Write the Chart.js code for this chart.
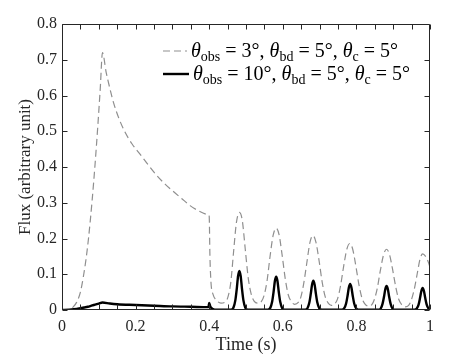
<!DOCTYPE html>
<html>
<head>
<meta charset="utf-8">
<script src="https://cdn.jsdelivr.net/npm/chart.js@4.4.1/dist/chart.umd.min.js"></script>
<style>
  body { margin: 0; background: #fff; }
  #wrap { position: relative; width: 474px; height: 356px; }
  #legend { position: absolute; left: 163px; top: 39px; font-family: "Liberation Serif", serif; color: #000; font-size: 20px; }
  #legend .row { height: 23px; line-height: 23px; white-space: nowrap; display: flex; align-items: center; }
  #legend svg { margin-right: 4px; }
  #legend sub { font-size: 14px; vertical-align: -4px; line-height: 0; }
</style>
</head>
<body>
<div id="wrap">
  <canvas id="fluxChart" width="474" height="356"></canvas>
  <div id="legend"></div>
</div>
<script>
// theta_obs = 3 deg (grey dashed)
const time3 = [0, 0.01, 0.02, 0.03, 0.04, 0.05, 0.058, 0.065, 0.072, 0.082, 0.09, 0.097, 0.104, 0.11,
  0.12, 0.13, 0.14, 0.155, 0.17, 0.19, 0.212, 0.235, 0.257, 0.28, 0.302, 0.325, 0.348, 0.37, 0.398,
  0.400, 0.402, 0.405, 0.41, 0.42, 0.432, 0.445, 0.452, 0.459, 0.466, 0.474, 0.482, 0.490, 0.498, 0.506, 0.514, 0.522, 0.532,
  0.542, 0.549, 0.557, 0.566, 0.574, 0.582, 0.590, 0.598, 0.607, 0.615, 0.623, 0.632,
  0.642, 0.649, 0.657, 0.665, 0.674, 0.682, 0.690, 0.699, 0.707, 0.715, 0.723, 0.732,
  0.742, 0.749, 0.757, 0.765, 0.774, 0.782, 0.790, 0.799, 0.807, 0.815, 0.823, 0.832,
  0.842, 0.849, 0.857, 0.865, 0.874, 0.882, 0.890, 0.899, 0.907, 0.915, 0.923, 0.932,
  0.942, 0.949, 0.957, 0.965, 0.973, 0.980, 0.988, 0.995, 1.0];
const flux3 = [0, 0, 0.002, 0.008, 0.022, 0.05, 0.093, 0.14, 0.2, 0.308, 0.41, 0.51, 0.62, 0.72,
  0.665, 0.62, 0.58, 0.535, 0.5, 0.465, 0.436, 0.405, 0.377, 0.352, 0.332, 0.312, 0.292, 0.278, 0.266,
  0.262, 0.15, 0.075, 0.045, 0.027, 0.019, 0.024, 0.04, 0.08, 0.16, 0.245, 0.273, 0.25, 0.17, 0.09, 0.045, 0.025, 0.019,
  0.024, 0.04, 0.08, 0.155, 0.21, 0.229, 0.21, 0.155, 0.085, 0.042, 0.024, 0.016,
  0.021, 0.036, 0.075, 0.13, 0.19, 0.208, 0.19, 0.135, 0.078, 0.038, 0.02, 0.013,
  0.018, 0.032, 0.068, 0.12, 0.17, 0.186, 0.17, 0.12, 0.07, 0.034, 0.017, 0.011,
  0.015, 0.03, 0.062, 0.11, 0.155, 0.17, 0.155, 0.11, 0.064, 0.03, 0.015, 0.009,
  0.013, 0.027, 0.057, 0.1, 0.143, 0.157, 0.15, 0.135, 0.12];

// theta_obs = 10 deg (black solid)
const time10 = [0, 0.02, 0.04, 0.05, 0.06, 0.07, 0.08, 0.09, 0.1, 0.11, 0.13, 0.15, 0.2, 0.25, 0.3, 0.35, 0.398,
  0.4, 0.403, 0.41, 0.42, 0.45,
  0.46, 0.466, 0.471, 0.475, 0.4785, 0.482, 0.4855, 0.489, 0.493, 0.498, 0.504, 0.53,
  0.56, 0.566, 0.571, 0.575, 0.5785, 0.582, 0.5855, 0.589, 0.593, 0.598, 0.604, 0.63,
  0.661, 0.667, 0.672, 0.676, 0.6795, 0.683, 0.6865, 0.69, 0.694, 0.699, 0.705, 0.73,
  0.761, 0.767, 0.772, 0.776, 0.7795, 0.783, 0.7865, 0.79, 0.794, 0.799, 0.805, 0.83,
  0.86, 0.866, 0.871, 0.875, 0.8785, 0.882, 0.8855, 0.889, 0.893, 0.898, 0.904, 0.93,
  0.958, 0.964, 0.969, 0.973, 0.9765, 0.98, 0.9835, 0.987, 0.991, 0.996, 1.0];
const flux10 = [0, 0.001, 0.003, 0.005, 0.007, 0.009, 0.012, 0.015, 0.018, 0.021, 0.018, 0.016, 0.014, 0.012, 0.01, 0.009, 0.008,
  0.02, 0.01, 0.003, 0.001, 0.001,
  0.001, 0.007, 0.027, 0.06, 0.095, 0.109, 0.095, 0.06, 0.027, 0.007, 0.001, 0.0005,
  0.001, 0.006, 0.023, 0.051, 0.081, 0.093, 0.081, 0.051, 0.023, 0.006, 0.001, 0.0005,
  0.001, 0.005, 0.02, 0.045, 0.071, 0.082, 0.071, 0.045, 0.02, 0.005, 0.001, 0.0005,
  0.001, 0.005, 0.018, 0.04, 0.063, 0.073, 0.063, 0.04, 0.018, 0.005, 0.001, 0.0005,
  0.001, 0.004, 0.017, 0.037, 0.058, 0.067, 0.058, 0.037, 0.017, 0.004, 0.001, 0.0005,
  0.001, 0.004, 0.015, 0.034, 0.053, 0.0615, 0.053, 0.034, 0.015, 0.004, 0.001];

const xTickMarks = [0, 0.05, 0.1, 0.15, 0.2, 0.25, 0.3, 0.35, 0.4, 0.45, 0.5, 0.55, 0.6, 0.65, 0.7, 0.75, 0.8, 0.85, 0.9, 0.95, 1];
const yTickMarks = [0, 0.1, 0.2, 0.3, 0.4, 0.5, 0.6, 0.7, 0.8];
const obsAngles = [3, 10];
const bdAngle = 5;
const cAngle = 5;

const axisColor = '#262626';
const serif = '"Liberation Serif", "Times New Roman", serif';

// box around the plot with inward ticks on all four sides
const boxTicks = {
  id: 'boxTicks',
  afterDraw(chart) {
    const { ctx, chartArea: a, scales: { x, y } } = chart;
    const L = Math.round(a.left) + 0.5, R = Math.round(a.right) - 0.5;
    const T = Math.round(a.top) + 0.5, B = Math.round(a.bottom) - 0.5;
    const len = 5;
    ctx.save();
    ctx.strokeStyle = axisColor;
    ctx.lineWidth = 1;
    ctx.beginPath();
    ctx.rect(L, T, R - L, B - T);
    xTickMarks.forEach(v => {
      const px = Math.round(x.getPixelForValue(v)) + 0.5;
      ctx.moveTo(px, B); ctx.lineTo(px, B - len);
      ctx.moveTo(px, T); ctx.lineTo(px, T + len);
    });
    yTickMarks.forEach(v => {
      const py = Math.round(y.getPixelForValue(v)) + 0.5;
      ctx.moveTo(L, py); ctx.lineTo(L + len, py);
      ctx.moveTo(R, py); ctx.lineTo(R - len, py);
    });
    ctx.stroke();
    ctx.restore();
  }
};

const fmt = v => String(+v.toFixed(1));

const ctx = document.getElementById('fluxChart').getContext('2d');
const chart = new Chart(ctx, {
  type: 'line',
  data: {
    datasets: [{
      data: time3.map((t, i) => ({ x: t, y: flux3[i] })),
      borderColor: '#8f8f8f',
      borderWidth: 1.2,
      borderDash: [7, 4],
      pointRadius: 0,
      cubicInterpolationMode: 'monotone',
      fill: false
    }, {
      data: time10.map((t, i) => ({ x: t, y: flux10[i] })),
      borderColor: '#000',
      borderWidth: 2.4,
      pointRadius: 0,
      cubicInterpolationMode: 'monotone',
      fill: false
    }]
  },
  options: {
    responsive: false,
    animation: false,
    layout: { padding: { top: 24, right: 44, left: 0, bottom: 0 } },
    plugins: { legend: { display: false }, tooltip: { enabled: false } },
    scales: {
      x: {
        type: 'linear', min: 0, max: 1,
        grid: { display: false, drawTicks: false },
        border: { display: false },
        ticks: { stepSize: 0.2, color: axisColor, padding: 7, font: { family: serif, size: 16 }, callback: fmt },
        title: { display: true, text: 'Time (s)', color: axisColor, padding: { top: 0, bottom: 0 }, font: { family: serif, size: 18 } },
        afterFit(s) { s.height = 46; }
      },
      y: {
        type: 'linear', min: 0, max: 0.8,
        grid: { display: false, drawTicks: false },
        border: { display: false },
        ticks: { stepSize: 0.1, color: axisColor, padding: 5, font: { family: serif, size: 16 }, callback: fmt },
        title: { display: true, text: 'Flux (arbitrary unit)', color: axisColor, padding: { top: 15, bottom: 0 }, font: { family: serif, size: 17 } },
        afterFit(s) { s.width = 62; }
      }
    }
  },
  plugins: [boxTicks]
});

// legend with subscripts
const legend = document.getElementById('legend');
obsAngles.forEach((obs, i) => {
  const row = document.createElement('div');
  row.className = 'row';
  const sample = i === 0
    ? '<svg width="24" height="4"><line x1="0" y1="2" x2="24" y2="2" stroke="#8f8f8f" stroke-width="1.2" stroke-dasharray="7,4"/></svg>'
    : '<svg width="26" height="4"><line x1="0" y1="2" x2="26" y2="2" stroke="#000" stroke-width="2.4"/></svg>';
  row.innerHTML = sample +
    '<span><i>θ</i><sub>obs</sub> = ' + obs + '°, <i>θ</i><sub>bd</sub> = ' + bdAngle +
    '°, <i>θ</i><sub>c</sub> = ' + cAngle + '°</span>';
  legend.appendChild(row);
});
</script>
</body>
</html>
